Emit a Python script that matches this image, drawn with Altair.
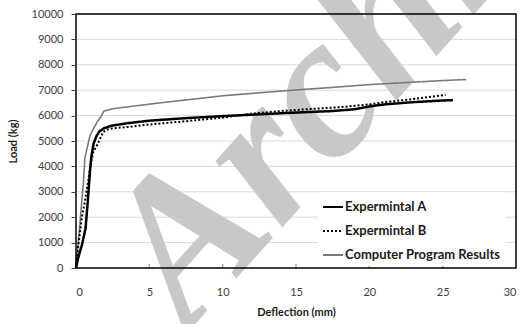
import altair as alt
import pandas as pd

# Axis ticks
x_ticks = [0, 5, 10, 15, 20, 25, 30]
y_ticks = [0, 1000, 2000, 3000, 4000, 5000, 6000, 7000, 8000, 9000, 10000]
x_inner_ticks = [5, 10, 15, 20, 25]

series_names = ["Expermintal A", "Expermintal B", "Computer Program Results"]

# Load-deflection curves (deflection in mm, load in kg)
exp_a_x = [0, 0.15, 0.4, 0.65, 0.8, 0.95, 1.05, 1.2, 1.4, 1.6, 1.9, 2.4, 3.5,
           5, 7.5, 10, 12.5, 15, 17.5, 19, 20, 21, 23, 25, 25.7]
exp_a_y = [0, 400, 900, 1550, 2600, 3800, 4400, 4900, 5200, 5380, 5500, 5600, 5700,
           5800, 5900, 5980, 6050, 6120, 6180, 6250, 6360, 6440, 6530, 6595, 6610]

exp_b_x = [0, 0.1, 0.25, 0.4, 0.6, 0.8, 1.0, 1.2, 1.45, 1.65, 1.85, 2.1, 2.5, 3.7,
           5, 7.5, 10, 12, 14, 16.5, 18, 20, 21, 23, 25.2]
exp_b_y = [0, 600, 1300, 2000, 2600, 3300, 4100, 4600, 4850, 5100, 5350, 5450, 5500, 5560,
           5650, 5780, 5920, 6080, 6180, 6280, 6330, 6440, 6530, 6650, 6810]

prog_x = [0, 0.1, 0.25, 0.4, 0.5, 0.6, 0.75, 0.95, 1.2, 1.45, 1.7, 1.9, 2.5, 4,
          6, 8.5, 10, 12.5, 15, 17.5, 20, 22.5, 25, 26.6]
prog_y = [0, 700, 1600, 2700, 3300, 4300, 4700, 5200, 5500, 5750, 5950, 6180, 6270, 6380,
          6520, 6680, 6780, 6900, 7010, 7110, 7220, 7300, 7380, 7420]

rows = []
for name, xs, ys in zip(series_names, [exp_a_x, exp_b_x, prog_x], [exp_a_y, exp_b_y, prog_y]):
    for i, (xv, yv) in enumerate(zip(xs, ys)):
        rows.append({"series": name, "order": i, "deflection": xv, "load": yv})
df = pd.DataFrame(rows)

W, H = 440, 254
FONT = "Lato"

x_scale = alt.Scale(domain=[0, 30], nice=False, zero=False)
y_scale = alt.Scale(domain=[0, 10000], nice=False)

x_axis = alt.Axis(values=x_ticks, grid=False, domain=False, ticks=False, format="d",
                  labelFont=FONT, labelFontSize=11, labelColor="#404040",
                  labelPadding=18, title="Deflection (mm)", titleFont=FONT,
                  titleFontSize=11, titleFontWeight="bold", titleColor="#1a1a1a",
                  titlePadding=9, zindex=1)
y_axis = alt.Axis(values=y_ticks, grid=False, domain=False, ticks=True, tickSize=5,
                  tickColor="#404040", format="d", labelFont=FONT, labelFontSize=11,
                  labelColor="#404040", labelPadding=8, title="Load (kg)",
                  titleFont=FONT, titleFontSize=11, titleFontWeight="bold",
                  titleColor="#1a1a1a", titlePadding=13, zindex=1)

legend = alt.Legend(orient="none", legendX=242, legendY=178, title=None,
                    symbolType="stroke", symbolSize=400, symbolStrokeWidth=2,
                    labelFont=FONT, labelFontWeight="bold", labelFontSize=13,
                    labelColor="#1a1a1a", fillColor="white", padding=4,
                    rowPadding=6, labelOffset=1)

color = alt.Color("series:N", scale=alt.Scale(domain=series_names,
                  range=["#000000", "#000000", "#7a7a7a"]), legend=legend)
dash = alt.StrokeDash("series:N", scale=alt.Scale(domain=series_names,
                      range=[[1, 0], [2, 2], [1, 0]]), legend=legend)

# Horizontal gridlines
grid = alt.Chart(pd.DataFrame({"load": y_ticks[1:]})).mark_rule(
    color="#d9d9d9", strokeWidth=1
).encode(y=alt.Y("load:Q", scale=y_scale, axis=y_axis))

# Background watermark
watermark = alt.Chart(pd.DataFrame({"t": ["Archive"]})).mark_text(
    font="Liberation Serif", fontStyle="italic", fontWeight="bold", fontSize=205,
    color="#c8c8c8", angle=312, align="left", baseline="alphabetic"
).encode(text="t:N", x=alt.value(112), y=alt.value(318))

# Small inward tick marks on the x axis
inner_ticks = alt.Chart(pd.DataFrame({"deflection": x_inner_ticks})).mark_rule(
    color="#a6a6a6", strokeWidth=1.5
).encode(x=alt.X("deflection:Q", scale=x_scale, axis=x_axis),
         y=alt.value(H - 4), y2=alt.value(H))


def curve(name, width):
    return alt.Chart(df).transform_filter(alt.datum.series == name).mark_line(
        strokeWidth=width
    ).encode(
        x=alt.X("deflection:Q", scale=x_scale, axis=x_axis),
        y=alt.Y("load:Q", scale=y_scale, axis=y_axis),
        color=color, strokeDash=dash, order="order:Q"
    )


frame = alt.Chart(pd.DataFrame({"v": [0]})).mark_rect(
    fillOpacity=0, stroke="#000000", strokeWidth=1.5
).encode(x=alt.value(0), x2=alt.value(W), y=alt.value(0), y2=alt.value(H))

chart = alt.layer(
    grid, watermark, inner_ticks,
    curve("Computer Program Results", 1.6),
    curve("Expermintal B", 2),
    curve("Expermintal A", 2.5),
    frame
).properties(
    width=W, height=H,
    autosize=alt.AutoSizeParams(type="none"),
    padding={"left": 76, "top": 14, "right": 10, "bottom": 56},
    background="white"
).configure_view(stroke=None)

chart.save("out.html", embed_options={"renderer": "svg", "actions": False})
